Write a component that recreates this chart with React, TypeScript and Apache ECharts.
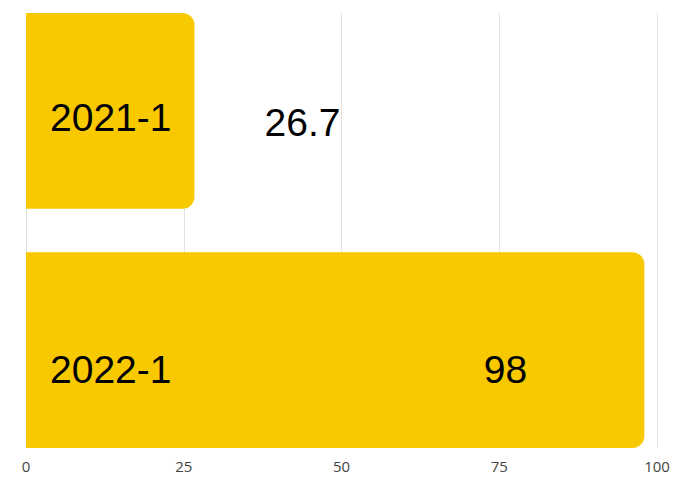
import React, { useEffect, useRef } from "react";
import * as echarts from "echarts";

const categories = ["2021-1", "2022-1"];
const values = [26.7, 98];
const xTicks = [0, 25, 50, 75, 100];

const BAR_COLOR = "#F9C900";
const LABEL_FONT = "'Liberation Sans', Arial, sans-serif";

export default function App() {
  const ref = useRef<HTMLDivElement>(null);
  useEffect(() => {
    document.body.style.margin = "0";
    if (!ref.current) return;
    const chart = echarts.init(ref.current, undefined, { renderer: "svg" });
    const catLabel = (offY: number) => ({
      show: true,
      position: "insideLeft",
      distance: 24,
      offset: [0, offY],
      formatter: "{b}",
      fontFamily: LABEL_FONT,
      fontSize: 39,
      color: "#000",
    });
    const valueLabelOffsets = [
      [108, 1],
      [-139, 30],
    ];
    chart.setOption({
      animation: false,
      grid: { left: 26, right: 36, top: 13, bottom: 29 },
      xAxis: {
        type: "value",
        min: xTicks[0],
        max: xTicks[xTicks.length - 1],
        interval: 25,
        axisLine: { show: false },
        axisTick: { show: false },
        splitLine: { show: true, lineStyle: { color: "#e2e2e2", width: 1 } },
        axisLabel: {
          margin: 10,
          fontFamily: "'Open Sans', sans-serif",
          fontSize: 15,
          color: "#444",
        },
      },
      yAxis: {
        type: "category",
        data: categories,
        inverse: true,
        axisLine: { show: false },
        axisTick: { show: false },
        axisLabel: { show: false },
        splitLine: { show: false },
      },
      series: [
        {
          type: "bar",
          barWidth: "90%",
          barGap: "-88.89%",
          data: [values[0], "-"],
          itemStyle: { color: BAR_COLOR, borderRadius: [0, 12, 12, 0] },
          label: catLabel(7),
        },
        {
          type: "bar",
          barWidth: "90%",
          barGap: "-88.89%",
          data: ["-", values[1]],
          itemStyle: { color: BAR_COLOR, borderRadius: [0, 12, 12, 0] },
          label: catLabel(19),
        },
        {
          type: "scatter",
          symbolSize: 0,
          silent: true,
          itemStyle: { opacity: 1 },
          data: values.map((v, i) => ({
            value: [v, categories[i]],
            label: { offset: valueLabelOffsets[i] },
          })),
          label: {
            show: true,
            position: "inside",
            formatter: (p: any) => String(p.value[0]),
            fontFamily: LABEL_FONT,
            fontSize: 39,
            color: "#000",
            opacity: 1,
          },
        },
      ],
    });
    return () => chart.dispose();
  }, []);
  return <div ref={ref} style={{ width: 693, height: 477 }} />;
}
